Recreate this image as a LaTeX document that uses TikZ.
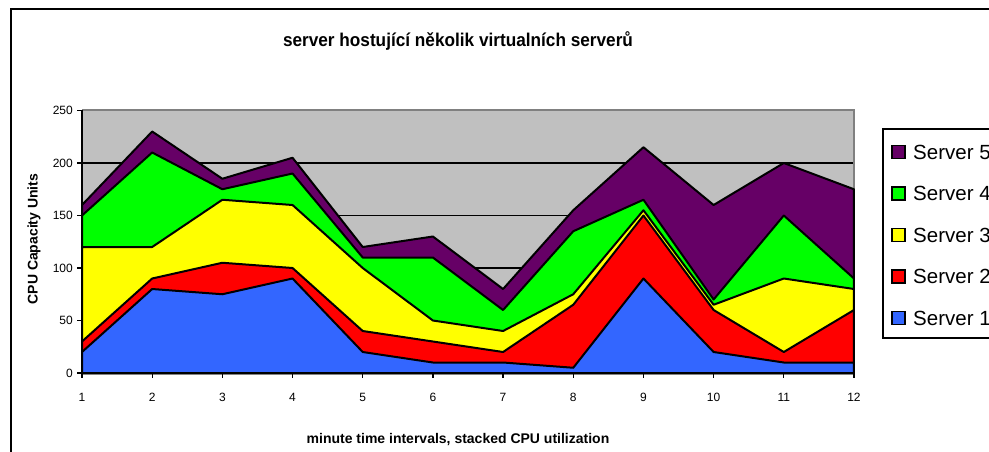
\documentclass[tikz,border=0pt]{standalone}
\usepackage{fontspec}
\setmainfont{Liberation Sans}
\definecolor{srvblue}{HTML}{3366FF}
\definecolor{srvred}{HTML}{FF0000}
\definecolor{srvyellow}{HTML}{FFFF00}
\definecolor{srvgreen}{HTML}{00FF00}
\definecolor{srvpurple}{HTML}{660066}
\definecolor{plotgray}{HTML}{C0C0C0}
\definecolor{bordergray}{HTML}{808080}
\tikzset{
  band/.style={draw=black, line width=2pt, line join=round},
  ticklabel/.style={font=\fontsize{12}{12}\selectfont, inner sep=0pt},
  axistitle/.style={font=\bfseries\fontsize{14}{14}\selectfont, inner sep=0pt},
  legendkey/.style={draw=black, line width=1.2pt, minimum size=13pt, inner sep=0pt},
  legendtext/.style={font=\fontsize{20.5}{20.5}\selectfont, anchor=west, inner sep=0pt}
}
\begin{document}
\begin{tikzpicture}[x=1pt, y=-1pt]
    \useasboundingbox (0,0) rectangle (989,451);
    \clip (0,0) rectangle (989,451);
    % chart frame
    \draw[line width=2.2pt] (11,9) rectangle (1000,470);
    % title
    \node[font=\bfseries\fontsize{18.5}{18.5}\selectfont, xscale=0.93, anchor=base, inner sep=0pt] (title) at (458,46) {server hostující několik virtualních serverů};
    % plot area with gridlines
    \fill[plotgray] (82,110) rectangle (854,373);
    \foreach \v in {50,100,150,200}
        \draw[line width=1.2pt] (82,{373-1.05*\v}) -- (854,{373-1.05*\v});
    \draw[bordergray, line width=1.8pt] (82,110) -- (854,110) -- (854,373);
    % stacked areas, top series first
    \begin{scope}[shift={(82,373)}, x=70.18pt, y=1.05pt]
        \foreach \col/\vals in {srvpurple/{160,230,185,205,120,130,80,155,215,160,200,175},
                                srvgreen/{150,210,175,190,110,110,60,135,165,70,150,90},
                                srvyellow/{120,120,165,160,100,50,40,75,155,65,90,80},
                                srvred/{30,90,105,100,40,30,20,65,150,60,20,60},
                                srvblue/{20,80,75,90,20,10,10,5,90,20,10,10}}
            \draw[band, fill=\col] (0,0) \foreach \v [count=\i] in \vals { -- (\i-1,\v) } -- (11,0) -- cycle;
    \end{scope}
    % axes
    \draw[line width=1.5pt] (82,110) -- (82,373) -- (854,373);
    \foreach \v in {0,50,...,250} {
        \draw[line width=1.2pt] (77,{373-1.05*\v}) -- (82,{373-1.05*\v});
        \node[ticklabel, anchor=east] (ylab\v) at (73,{373-1.05*\v}) {\v};
    }
    \foreach \i in {1,...,12} {
        \draw[line width=1.2pt] ({82+70.18*(\i-1)},373) -- ({82+70.18*(\i-1)},378);
        \node[ticklabel, anchor=base] (xlab\i) at ({82+70.18*(\i-1)},401) {\i};
    }
    \node[axistitle, rotate=90] (ytitle) at (34,239) {CPU Capacity Units};
    \node[axistitle, anchor=base] (xtitle) at (458,443) {minute time intervals, stacked CPU utilization};
    % legend
    \draw[line width=1.3pt, fill=white] (883,129) rectangle (1000,338);
    \foreach \col/\n [count=\k] in {srvpurple/5, srvgreen/4, srvyellow/3, srvred/2, srvblue/1} {
        \node[legendkey, fill=\col] (key\n) at (898.5,{152+41.5*(\k-1)}) {};
        \node[legendtext] (leg\n) at (913,{152+41.5*(\k-1)}) {Server \n};
    }
\end{tikzpicture}
\end{document}
